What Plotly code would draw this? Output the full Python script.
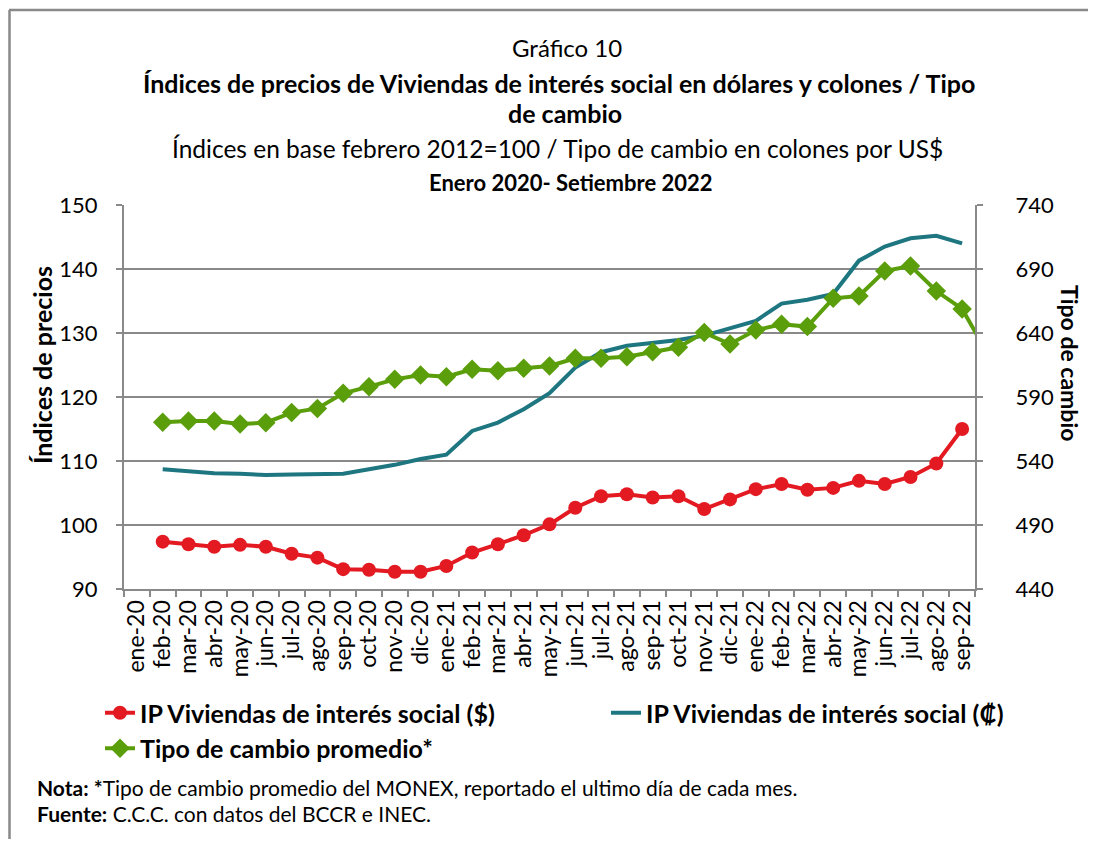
import plotly.graph_objects as go

# ===== datos =====
meses = ["ene-20", "feb-20", "mar-20", "abr-20", "may-20", "jun-20", "jul-20", "ago-20",
         "sep-20", "oct-20", "nov-20", "dic-20", "ene-21", "feb-21", "mar-21", "abr-21",
         "may-21", "jun-21", "jul-21", "ago-21", "sep-21", "oct-21", "nov-21", "dic-21",
         "ene-22", "feb-22", "mar-22", "abr-22", "may-22", "jun-22", "jul-22", "ago-22",
         "sep-22"]
mes_extra = ["oct-22"]  # el tipo de cambio trae un punto más, queda recortado

ip_dolares = [None,
              97.4, 97.0, 96.6, 96.9, 96.6, 95.5, 94.9, 93.1, 93.0, 92.7, 92.7,
              93.6, 95.7, 97.0, 98.4, 100.1, 102.7, 104.5, 104.8, 104.3, 104.5, 102.5, 104.0,
              105.6, 106.4, 105.5, 105.8, 106.9, 106.4, 107.5, 109.6, 115.0]

ip_colones = [None,
              108.7, 108.4, 108.1, 108.0, 107.8, 107.9, 108.0, 108.0, 108.7, 109.4, 110.3,
              111.0, 114.7, 116.0, 118.1, 120.6, 124.6, 127.0, 128.0, 128.5, 128.9, 129.6, 130.7,
              131.9, 134.6, 135.2, 136.1, 141.3, 143.5, 144.8, 145.2, 144.0]

tipo_cambio = [None,
               570.2, 571.2, 571.2, 568.9, 569.9, 577.8, 581.1, 592.9, 598.1, 603.8, 607.2,
               605.9, 611.6, 610.6, 612.4, 614.2, 620.2, 620.2, 621.5, 625.4, 628.8, 640.3, 631.4,
               642.3, 646.8, 645.0, 667.1, 668.9, 688.4, 692.4, 672.8, 658.8,
               623.5]

ticks_izq = [90, 100, 110, 120, 130, 140, 150]
ticks_der = [440, 490, 540, 590, 640, 690, 740]

# ===== geometría (px de la imagen) =====
W, H = 1096, 847
OFF = 8  # margen por defecto del <body> en la página
L, R, T, B = 124, 975, 205, 589
FW, FH = W - 2 * OFF, H - 2 * OFF

def px(x):
    return (x - L) / (R - L)

def py(y):
    return (B - y) / (B - T)

ROJO = "#E31A22"
VERDE = "#5B9E0B"
TEAL = "#1E7780"
GRIS = "#898989"
FUENTE = "Lato"

fig = go.Figure()

fig.add_trace(go.Scatter(
    x=meses, y=ip_dolares,
    name="<b>IP Viviendas de interés social ($)</b>",
    mode="lines+markers",
    line=dict(color=ROJO, width=4),
    marker=dict(symbol="circle", size=14, color=ROJO),
    legend="legend", legendgroup="a",
))

fig.add_trace(go.Scatter(
    x=meses, y=ip_colones,
    name="<b>IP Viviendas de interés social (₡)</b>",
    mode="lines",
    line=dict(color=TEAL, width=4),
    legend="legend2",
))

fig.add_trace(go.Scatter(
    x=meses + mes_extra, y=tipo_cambio,
    name="<b>Tipo de cambio promedio*</b>",
    mode="lines+markers",
    line=dict(color=VERDE, width=4),
    marker=dict(symbol="diamond", size=15, color=VERDE),
    yaxis="y2",
    legend="legend", legendgroup="b",
))

# ===== títulos =====
titulos = [
    ("Gráfico 10", 567, 48, False, 24),
    ("Índices de precios de Viviendas de interés social en dólares y colones / Tipo", 559, 83, True, 25),
    ("de cambio", 565, 113, True, 25),
    ("Índices en base febrero 2012=100 / Tipo de cambio en colones por US$", 557, 148, False, 24.5),
    ("Enero 2020- Setiembre 2022", 571, 182, True, 22),
]
anotaciones = []
for texto, x, y, negrita, tam in titulos:
    anotaciones.append(dict(
        text=f"<b>{texto}</b>" if negrita else texto,
        x=px(x), y=py(y), xref="paper", yref="paper",
        xanchor="center", yanchor="middle", showarrow=False,
        font=dict(family=FUENTE, size=tam, color="black"),
    ))

anotaciones.append(dict(
    text="<b>Índices de precios</b>", x=px(42), y=py(365), xref="paper", yref="paper",
    xanchor="center", yanchor="middle", showarrow=False, textangle=-90,
    font=dict(family=FUENTE, size=25, color="black"),
))
anotaciones.append(dict(
    text="<b>Tipo de cambio</b>", x=px(1070), y=py(363), xref="paper", yref="paper",
    xanchor="center", yanchor="middle", showarrow=False, textangle=90,
    font=dict(family=FUENTE, size=23, color="black"),
))

anotaciones.append(dict(
    text="<b>Nota: *</b>Tipo de cambio promedio del MONEX, reportado el ultimo día de cada mes.",
    x=px(35), y=py(787), xref="paper", yref="paper",
    xanchor="left", yanchor="middle", showarrow=False,
    font=dict(family=FUENTE, size=21, color="black"),
))
anotaciones.append(dict(
    text="<b>Fuente:</b> C.C.C. con datos del BCCR e INEC.",
    x=px(35), y=py(813), xref="paper", yref="paper",
    xanchor="left", yanchor="middle", showarrow=False,
    font=dict(family=FUENTE, size=21, color="black"),
))

# ===== marco del gráfico =====
marco = [
    dict(type="line", xref="paper", yref="paper",
         x0=px(9), x1=px(W + 10), y0=py(10), y1=py(10),
         line=dict(color=GRIS, width=2.5)),
    dict(type="line", xref="paper", yref="paper",
         x0=px(9.5), x1=px(9.5), y0=py(10), y1=py(H + 10),
         line=dict(color=GRIS, width=2.5)),
]

leyenda = dict(
    orientation="v",
    xanchor="left", yanchor="top",
    font=dict(family=FUENTE, size=25, color="black"),
    bgcolor="rgba(0,0,0,0)",
    tracegroupgap=0,
)

fig.update_layout(
    width=FW, height=FH,
    margin=dict(l=L - OFF, r=FW - (R - OFF), t=T - OFF, b=FH - (B - OFF), autoexpand=False),
    paper_bgcolor="white",
    plot_bgcolor="white",
    font=dict(family=FUENTE, color="black"),
    annotations=anotaciones,
    shapes=marco,
    legend=dict(leyenda, x=px(100), y=py(690)),
    legend2=dict(leyenda, x=px(606), y=py(690)),
    xaxis=dict(
        type="category",
        categoryorder="array",
        categoryarray=meses + mes_extra,
        range=[-0.5, len(meses) - 0.5],
        tickmode="linear", tick0=0, dtick=1,
        tickson="boundaries",
        ticks="outside", ticklen=6, tickcolor=GRIS, tickwidth=1.5,
        tickangle=-90,
        tickfont=dict(family=FUENTE, size=23, color="black"),
        showline=True, linecolor=GRIS, linewidth=2,
        showgrid=False,
    ),
    yaxis=dict(
        range=[ticks_izq[0], ticks_izq[-1]],
        tickvals=ticks_izq,
        ticks="outside", ticklen=6, tickcolor=GRIS, tickwidth=1.5,
        tickfont=dict(family=FUENTE, size=22, color="black"),
        ticklabelstandoff=14,
        showline=True, linecolor=GRIS, linewidth=2,
        showgrid=True, gridcolor=GRIS, gridwidth=1.5,
        zeroline=False,
    ),
    yaxis2=dict(
        range=[ticks_der[0], ticks_der[-1]],
        tickvals=ticks_der,
        overlaying="y", side="right",
        ticks="outside", ticklen=6, tickcolor=GRIS, tickwidth=1.5,
        tickfont=dict(family=FUENTE, size=22, color="black"),
        ticklabelstandoff=28,
        showline=True, linecolor=GRIS, linewidth=2,
        showgrid=False, zeroline=False,
    ),
)

fig.write_html("out.html")
